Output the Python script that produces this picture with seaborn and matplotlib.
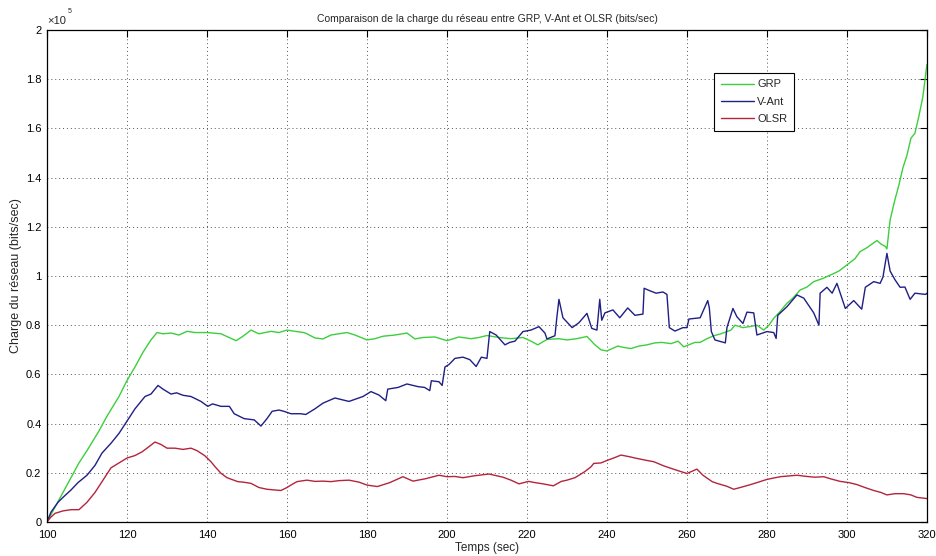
import matplotlib
matplotlib.use("Agg")
import matplotlib.pyplot as plt
import seaborn as sns
import pandas as pd

# Network load samples, in units of 1e5 bits/sec
grp_t = [100, 102, 105, 108, 110, 113, 115, 118, 120, 122, 124, 126, 127.5, 129, 131, 133, 135, 137, 140,
         143.5, 145.5, 147.3, 149, 151, 153, 156, 158, 160, 162, 164.2, 165, 167, 169, 171, 173, 175, 177,
         180, 182, 184, 187, 190, 192, 194, 197, 200, 203, 206, 208, 210, 213, 216, 219, 221, 222.7, 225,
         228, 230, 232.4, 235, 237, 238.5, 240, 242.7, 244, 246, 248, 250, 252, 253.7, 256, 257.8, 259.2,
         262, 263.3, 265, 266.7, 268.5, 271, 272, 274, 276, 277.5, 279.2, 280.5, 281.7, 283, 285, 286.5,
         288.3, 290, 291.7, 294, 296.7, 298, 300, 302, 303.3, 305, 307.5, 308.5, 309.6, 310, 310.8, 312,
         313, 314, 315, 316, 317, 318, 319, 320]
grp_v = [0, 0.06, 0.15, 0.24, 0.29, 0.37, 0.43, 0.51, 0.575, 0.63, 0.69, 0.74, 0.77, 0.765, 0.768, 0.76,
         0.775, 0.77, 0.77, 0.765, 0.75, 0.737, 0.755, 0.78, 0.765, 0.775, 0.77, 0.78, 0.775, 0.77, 0.765,
         0.748, 0.744, 0.76, 0.765, 0.77, 0.76, 0.74, 0.745, 0.755, 0.76, 0.768, 0.744, 0.75, 0.752, 0.737,
         0.752, 0.745, 0.75, 0.758, 0.75, 0.745, 0.75, 0.735, 0.72, 0.742, 0.745, 0.74, 0.745, 0.754, 0.72,
         0.7, 0.695, 0.715, 0.71, 0.705, 0.715, 0.72, 0.728, 0.73, 0.725, 0.735, 0.712, 0.73, 0.73, 0.745,
         0.757, 0.765, 0.78, 0.8, 0.79, 0.795, 0.8, 0.78, 0.8, 0.828, 0.85, 0.889, 0.91, 0.943, 0.955,
         0.977, 0.99, 1.01, 1.02, 1.045, 1.07, 1.099, 1.115, 1.144, 1.13, 1.12, 1.11, 1.228, 1.31, 1.37,
         1.44, 1.49, 1.56, 1.58, 1.65, 1.73, 1.86]

vant_t = [100, 101, 102.75, 104, 106, 107.75, 110, 112, 113.75, 116, 118, 120, 122, 124.5, 126, 127.75,
          129, 131, 132.4, 134, 136, 138.5, 140.2, 141.4, 143.5, 145.6, 146.8, 149.3, 151.8, 153.5, 155,
          156.3, 158, 159.2, 161, 163.4, 164.7, 167, 169, 172, 175.5, 179, 181, 183, 184.7, 185.2, 187.8,
          190, 192.8, 194.4, 195.7, 196.1, 198, 198.8, 199.5, 200.5, 202, 204, 205.7, 207.3, 208.6, 210,
          210.7, 212.3, 214.5, 215.7, 217, 219, 221, 223, 224.5, 225, 227, 227.5, 228, 229, 231.3, 233,
          235, 236.2, 237.5, 238.2, 238.7, 239.5, 241.5, 243.2, 245.2, 247, 249, 249.3, 250.7, 252.3, 254,
          255, 255.6, 257, 259, 260, 260.5, 263.3, 265.2, 265.6, 266.1, 267, 269.6, 270, 271.5, 272.5,
          274, 275, 276.7, 277.5, 280, 281.7, 282.3, 282.7, 285, 287.5, 289.2, 291.7, 293, 293.3, 295,
          296.3, 297.5, 299.6, 301.7, 303.7, 304.6, 306.7, 308.3, 309, 310, 310.8, 312, 313.3, 314.5,
          315.8, 317, 319.7, 320]
vant_v = [0, 0.04, 0.08, 0.10, 0.13, 0.16, 0.19, 0.23, 0.28, 0.32, 0.36, 0.41, 0.46, 0.51, 0.52, 0.555,
          0.54, 0.52, 0.525, 0.515, 0.51, 0.49, 0.47, 0.48, 0.47, 0.47, 0.44, 0.42, 0.415, 0.39, 0.42,
          0.45, 0.455, 0.45, 0.44, 0.44, 0.437, 0.46, 0.483, 0.504, 0.49, 0.51, 0.53, 0.516, 0.493, 0.54,
          0.547, 0.561, 0.55, 0.547, 0.534, 0.574, 0.57, 0.555, 0.63, 0.64, 0.665, 0.67, 0.66, 0.632, 0.67,
          0.665, 0.774, 0.76, 0.72, 0.73, 0.735, 0.774, 0.78, 0.794, 0.768, 0.744, 0.757, 0.835, 0.905,
          0.83, 0.79, 0.81, 0.848, 0.787, 0.78, 0.905, 0.82, 0.85, 0.862, 0.83, 0.87, 0.84, 0.845, 0.95,
          0.94, 0.93, 0.935, 0.925, 0.79, 0.776, 0.79, 0.79, 0.825, 0.83, 0.90, 0.87, 0.774, 0.74, 0.728,
          0.79, 0.868, 0.834, 0.807, 0.853, 0.85, 0.76, 0.774, 0.77, 0.746, 0.84, 0.875, 0.923, 0.91, 0.85,
          0.80, 0.93, 0.954, 0.93, 0.97, 0.868, 0.90, 0.865, 0.954, 0.977, 0.97, 0.995, 1.092, 1.02, 0.985,
          0.954, 0.955, 0.905, 0.93, 0.925, 0.93]

olsr_t = [100, 101, 102, 104, 106, 108, 110, 112, 114, 116, 118, 120, 122, 123.75, 125, 127, 128.5, 130,
          132, 134, 136, 137.5, 139.4, 141, 142, 143.5, 145, 147.7, 149, 151, 153, 155, 157, 158.5, 160,
          161.5, 162.5, 165, 167, 169, 171, 173, 175.5, 178, 180, 182.6, 185.7, 189, 191.5, 194.7, 198,
          200, 202, 204, 207, 210.5, 214, 216, 218, 220.4, 222, 224, 226.6, 228.6, 230, 232, 234.4, 236,
          236.7, 238.5, 240, 242, 243.5, 245.7, 247, 250, 251.7, 254.2, 257.5, 260, 262.5, 264, 266.3,
          267.5, 270, 271.7, 273.3, 275.5, 277.5, 280, 283.3, 287.5, 290, 292, 294.2, 296, 298.3, 300.5,
          302.5, 304.5, 306.7, 308.5, 310, 312, 314.2, 316, 317.5, 319.6, 320]
olsr_v = [0, 0.02, 0.035, 0.045, 0.05, 0.05, 0.08, 0.12, 0.17, 0.22, 0.24, 0.26, 0.27, 0.285, 0.30,
          0.325, 0.315, 0.30, 0.30, 0.295, 0.30, 0.29, 0.27, 0.245, 0.225, 0.198, 0.18, 0.164, 0.162,
          0.157, 0.14, 0.133, 0.13, 0.128, 0.14, 0.155, 0.164, 0.17, 0.165, 0.166, 0.164, 0.168, 0.17,
          0.162, 0.15, 0.144, 0.16, 0.184, 0.166, 0.176, 0.19, 0.184, 0.185, 0.18, 0.188, 0.195, 0.182,
          0.17, 0.155, 0.165, 0.16, 0.155, 0.147, 0.165, 0.17, 0.18, 0.204, 0.224, 0.238, 0.24, 0.25,
          0.262, 0.272, 0.265, 0.26, 0.25, 0.245, 0.228, 0.21, 0.197, 0.215, 0.19, 0.164, 0.157, 0.145,
          0.133, 0.14, 0.15, 0.16, 0.173, 0.184, 0.19, 0.185, 0.182, 0.184, 0.175, 0.165, 0.16, 0.152,
          0.14, 0.128, 0.12, 0.11, 0.115, 0.115, 0.11, 0.10, 0.096, 0.095]

protocols = ["GRP", "V-Ant", "OLSR"]
colors = {"GRP": "#3ccf3c", "V-Ant": "#1f1f85", "OLSR": "#b3253c"}

frames = []
for name, t, v in [("GRP", grp_t, grp_v), ("V-Ant", vant_t, vant_v), ("OLSR", olsr_t, olsr_v)]:
    frames.append(pd.DataFrame({"temps": t, "charge": v, "protocole": name}))
df = pd.concat(frames, ignore_index=True)

sns.set_style("white")
plt.rcParams["font.family"] = ["Liberation Sans", "DejaVu Sans"]

fig = plt.figure(figsize=(9.36, 5.56), dpi=100)
ax = fig.add_axes([0.0502, 0.0612, 0.9401, 0.8849])

sns.lineplot(data=df, x="temps", y="charge", hue="protocole", hue_order=protocols,
             palette=colors, estimator=None, sort=False, linewidth=1.0, ax=ax)

ax.set_xlim(100, 320)
ax.set_ylim(0, 2)
ax.set_xticks(range(100, 321, 20))
ax.set_yticks([i * 0.2 for i in range(11)])
ax.set_yticklabels(["%g" % round(i * 0.2, 1) for i in range(11)])

ax.grid(True, color="#555555", linestyle=(0, (1, 3)), linewidth=0.7)
for s in ax.spines.values():
    s.set_color("black")
    s.set_linewidth(0.9)
ax.tick_params(direction="in", length=5, width=0.8, top=True, right=True,
               labelsize=8, colors="black")
ax.tick_params(axis="x", pad=6)
ax.tick_params(axis="y", pad=4)

ax.set_xlabel("Temps (sec)", fontsize=8.5, labelpad=1)
ax.set_ylabel("Charge du réseau (bits/sec)", fontsize=9, labelpad=3)
ax.set_title("Comparaison de la charge du réseau entre GRP, V-Ant et OLSR (bits/sec)",
             fontsize=7.5, pad=6)

# exponent marker above the y axis
ax.text(0.0, 1.008, "×10", transform=ax.transAxes, fontsize=8, ha="left", va="bottom")
ax.text(0.024, 1.03, "5", transform=ax.transAxes, fontsize=5, ha="left", va="bottom")

leg = ax.legend(loc="upper left", bbox_to_anchor=(0.758, 0.913), fontsize=8,
                frameon=True, fancybox=False, framealpha=1, edgecolor="black",
                handlelength=3.0, handletextpad=0.3, borderpad=0.6, labelspacing=0.65,
                borderaxespad=0)
leg.get_frame().set_linewidth(0.8)
leg.set_title(None)

fig.savefig("out.png", dpi=100)
